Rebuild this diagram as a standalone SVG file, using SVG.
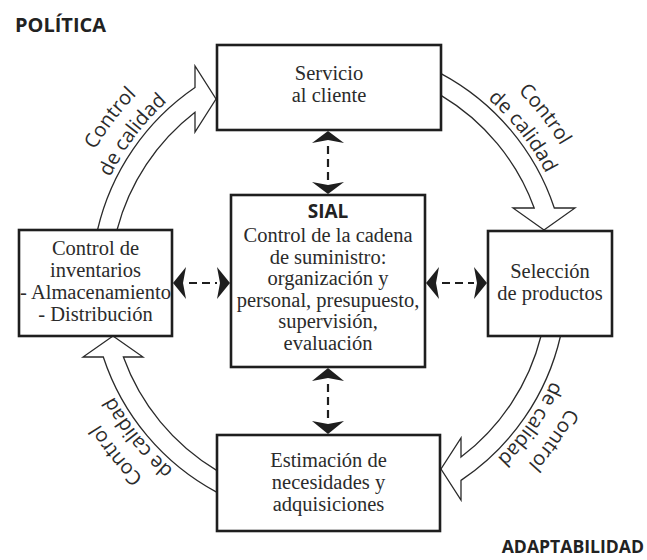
<svg xmlns="http://www.w3.org/2000/svg" width="647" height="560" viewBox="0 0 647 560">
<style>
.box{fill:#fff;stroke:#1e1e1e;stroke-width:2.6}
.flow{fill:#fff;stroke:#2a2a2a;stroke-width:1.3;stroke-linejoin:miter}
.serif{font-family:"Liberation Serif","Times New Roman",serif;font-size:20.5px;fill:#2b2b2b;text-anchor:middle}
.sans{font-family:"Open Sans","DejaVu Sans",sans-serif;font-size:20px;fill:#2b2b2b}
.title{font-family:"Open Sans","DejaVu Sans",sans-serif;font-size:19px;font-weight:bold;fill:#222}
.dash{stroke:#1e1e1e;stroke-width:2.2;stroke-dasharray:8 5;stroke-dashoffset:10;fill:none}
.head{fill:#1e1e1e}
</style>
<defs>
<path id="cIn" d="M572,283 A243,243 0 1 1 86,283 A243,243 0 1 1 572,283"/>
<path id="cOut" d="M598,283 A269,269 0 1 1 60,283 A269,269 0 1 1 598,283"/>
</defs>
<rect width="647" height="560" fill="#fff"/>
<text class="title" x="15" y="32" textLength="91" lengthAdjust="spacingAndGlyphs">POLÍTICA</text>
<text class="title" x="644" y="553" text-anchor="end" style="font-size:17.6px">ADAPTABILIDAD</text>
<g id="connectors">
<path class="flow" d="M97.5,230 A237.5,237.5 0 0 1 195,87.5 L195,66 L216,99 L195,132 L195,112.3 A218.5,218.5 0 0 0 117,230 Z"/>
<path class="flow" d="M441,73.6 A237.5,237.5 0 0 1 554.3,208 L575,208 L544,230 L513,208 L534.2,208 A218.5,218.5 0 0 0 441,95.4 Z"/>
<path class="flow" d="M560.5,336 A237.5,237.5 0 0 1 461,480.4 L461,500 L441,469 L461,438 L461,457.1 A218.5,218.5 0 0 0 541,336 Z"/>
<path class="flow" d="M217,492.4 A237.5,237.5 0 0 1 103.3,357 L83,357 L113,336 L143,357 L123.4,357 A218.5,218.5 0 0 0 217,470.6 Z"/>
<text class="sans" text-anchor="middle"><textPath href="#cOut" startOffset="60.28%">Control</textPath></text>
<text class="sans" text-anchor="middle"><textPath href="#cIn" startOffset="60.28%">de calidad</textPath></text>
<text class="sans" text-anchor="middle"><textPath href="#cOut" startOffset="89.44%">Control</textPath></text>
<text class="sans" text-anchor="middle"><textPath href="#cIn" startOffset="89.44%">de calidad</textPath></text>
<text class="sans" text-anchor="middle"><textPath href="#cOut" startOffset="9.72%">Control</textPath></text>
<text class="sans" text-anchor="middle"><textPath href="#cIn" startOffset="9.72%">de calidad</textPath></text>
<text class="sans" text-anchor="middle"><textPath href="#cOut" startOffset="39.17%">Control</textPath></text>
<text class="sans" text-anchor="middle"><textPath href="#cIn" startOffset="39.17%">de calidad</textPath></text>
<line class="dash" x1="328" y1="143" x2="328" y2="182"/>
<path class="head" d="M328,131 L344,143 L328,140 L312,143 Z"/>
<path class="head" d="M328,194 L344,182 L328,185 L312,182 Z"/>
<line class="dash" x1="328" y1="381" x2="328" y2="421"/>
<path class="head" d="M328,368 L344,381 L328,378 L312,381 Z"/>
<path class="head" d="M328,434 L344,421 L328,424 L312,421 Z"/>
<line class="dash" x1="186" y1="283" x2="217" y2="283"/>
<path class="head" d="M173,283 L186,267 L183,283 L186,299 Z"/>
<path class="head" d="M230,283 L217,267 L220,283 L217,299 Z"/>
<line class="dash" x1="439" y1="283" x2="474" y2="283"/>
<path class="head" d="M426,283 L439,267 L436,283 L439,299 Z"/>
<path class="head" d="M487,283 L474,267 L477,283 L474,299 Z"/>
</g>
<g id="servicio">
<rect class="box" x="217" y="45" width="224" height="85"/>
<text class="serif" x="329" y="80">Servicio</text>
<text class="serif" x="329" y="101.5">al cliente</text>
</g>
<g id="sial">
<rect class="box" x="231" y="195" width="194" height="172"/>
<text x="328" y="218" text-anchor="middle" style="font-family:'Open Sans','DejaVu Sans',sans-serif;font-size:19px;font-weight:bold;fill:#222">SIAL</text>
<text class="serif" x="328" y="242">Control de la cadena</text>
<text class="serif" x="328" y="263.5">de suministro:</text>
<text class="serif" x="328" y="285">organización y</text>
<text class="serif" x="328" y="306.5">personal, presupuesto,</text>
<text class="serif" x="328" y="328">supervisión,</text>
<text class="serif" x="328" y="349.5">evaluación</text>
</g>
<g id="inventarios">
<rect class="box" x="19" y="230" width="153" height="106"/>
<text class="serif" x="95.5" y="255">Control de</text>
<text class="serif" x="95.5" y="277">inventarios</text>
<text class="serif" x="95.5" y="299">- Almacenamiento</text>
<text class="serif" x="95.5" y="321">- Distribución</text>
</g>
<g id="seleccion">
<rect class="box" x="488" y="231" width="124" height="105"/>
<text class="serif" x="550" y="278">Selección</text>
<text class="serif" x="550" y="300">de productos</text>
</g>
<g id="estimacion">
<rect class="box" x="217" y="435" width="223" height="96"/>
<text class="serif" x="328.5" y="467">Estimación de</text>
<text class="serif" x="328.5" y="489">necesidades y</text>
<text class="serif" x="328.5" y="511">adquisiciones</text>
</g>
</svg>
